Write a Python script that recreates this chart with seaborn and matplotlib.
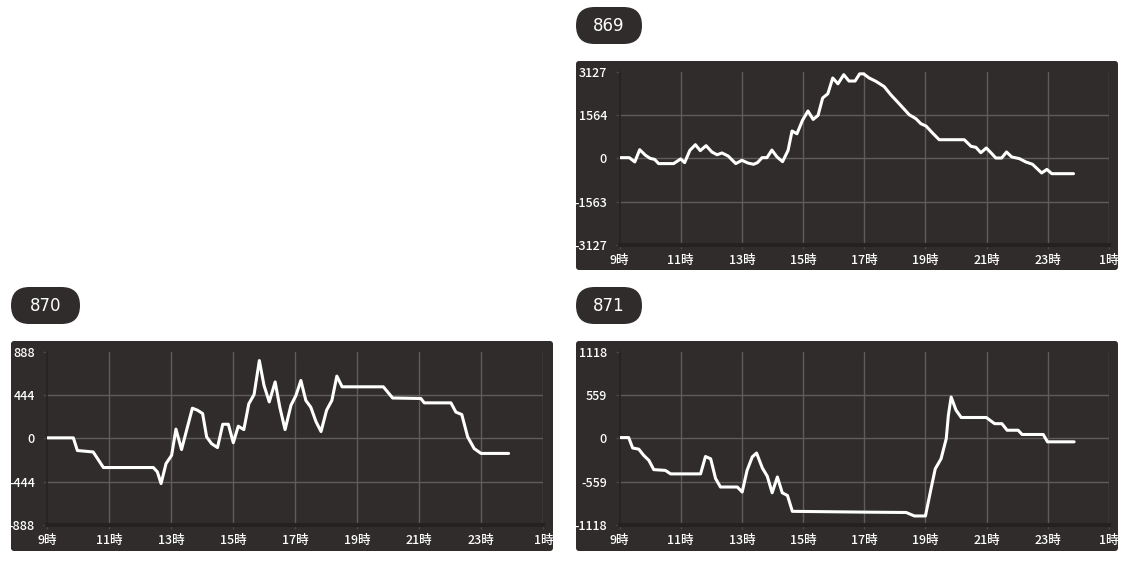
import matplotlib
matplotlib.use("Agg")
import matplotlib.pyplot as plt
from matplotlib.patches import FancyBboxPatch
from matplotlib.transforms import IdentityTransform
import pandas as pd
import seaborn as sns

# ---------------- data ----------------
titles = ["869", "870", "871"]
hour_ticks = [9, 11, 13, 15, 17, 19, 21, 23, 25]
hour_labels = ["9時", "11時", "13時", "15時", "17時", "19時", "21時", "23時", "1時"]

y869_ticks = [3127, 1563.5, 0, -1563.5, -3127]
y869_labels = ["3127", "1564", "0", "-1563", "-3127"]
y870_ticks = [888, 444, 0, -444, -888]
y870_labels = ["888", "444", "0", "-444", "-888"]
y871_ticks = [1118, 559, 0, -559, -1118]
y871_labels = ["1118", "559", "0", "-559", "-1118"]

t869 = [9.0, 9.32, 9.5, 9.66, 9.85, 10.0, 10.15, 10.28, 10.77, 11.0, 11.13, 11.3, 11.48,
        11.64, 11.83, 12.02, 12.19, 12.35, 12.55, 12.8, 13.0, 13.2, 13.38, 13.51, 13.66,
        13.82, 13.98, 14.15, 14.33, 14.51, 14.64, 14.8, 14.98, 15.16, 15.33, 15.49, 15.64,
        15.81, 15.97, 16.14, 16.33, 16.5, 16.7, 16.85, 16.98, 17.16, 17.38, 17.65, 17.87,
        18.14, 18.47, 18.69, 18.85, 19.02, 19.23, 19.45, 20.27, 20.49, 20.65, 20.81, 20.99,
        21.14, 21.3, 21.49, 21.65, 21.82, 22.07, 22.28, 22.5, 22.8, 22.97, 23.13, 23.84]
v869 = [25, 25, -130, 314, 110, 0, -40, -190, -190, -20, -155, 290, 495,
        280, 460, 230, 130, 195, 85, -190, -70, -170, -215, -155, 25,
        25, 300, 50, -120, 290, 990, 890, 1375, 1715, 1410, 1555, 2185,
        2340, 2910, 2700, 3030, 2800, 2800, 3060, 3060, 2910, 2790, 2600, 2300,
        1980, 1580, 1435, 1255, 1170, 920, 675, 675, 435, 400, 205, 375,
        205, 12, 12, 230, 50, -10, -130, -215, -530, -400, -555, -555]

t870 = [9.0, 9.84, 9.97, 10.48, 10.81, 12.42, 12.55, 12.67, 12.83, 13.01, 13.15, 13.33,
        13.68, 13.84, 14.01, 14.14, 14.3, 14.49, 14.66, 14.84, 15.0, 15.16, 15.34, 15.5,
        15.67, 15.84, 15.99, 16.16, 16.35, 16.5, 16.67, 16.86, 17.02, 17.18, 17.34, 17.5,
        17.67, 17.83, 18.01, 18.18, 18.34, 18.51, 19.84, 20.14, 21.05, 21.16, 22.02, 22.18,
        22.37, 22.56, 22.77, 22.99, 23.88]
v870 = [5, 5, -125, -140, -300, -300, -345, -465, -260, -175, 95, -115,
        310, 290, 255, 15, -55, -95, 145, 145, -45, 125, 90, 355,
        450, 800, 545, 375, 580, 320, 90, 340, 440, 595, 390, 320,
        170, 70, 290, 390, 640, 530, 530, 415, 410, 365, 365, 270,
        245, 15, -105, -155, -155]

t871 = [9.0, 9.3, 9.43, 9.63, 9.79, 9.96, 10.12, 10.5, 10.67, 11.65, 11.81, 11.98, 12.14,
        12.3, 12.85, 13.01, 13.17, 13.34, 13.48, 13.67, 13.83, 13.99, 14.16, 14.32, 14.49,
        14.65, 16.95, 18.37, 18.64, 19.0, 19.16, 19.32, 19.51, 19.68, 19.75, 19.84, 20.0,
        20.17, 20.99, 21.26, 21.5, 21.67, 22.03, 22.16, 22.85, 22.99, 23.86]
v871 = [10, 10, -125, -140, -220, -285, -405, -415, -460, -460, -235, -265, -520,
        -630, -630, -695, -415, -240, -190, -385, -490, -705, -500, -705, -740,
        -945, -955, -960, -1005, -1005, -695, -395, -265, -5, 300, 535, 365,
        270, 270, 190, 190, 105, 105, 50, 50, -45, -45]

# ---------------- style ----------------
W, H = 1125, 561
BG = "#2f2c2b"
GRID = "#5f5c5a"

sns.set_theme(style="dark")
plt.rcParams["font.family"] = ["Noto Sans CJK JP", "DejaVu Sans"]

fig = plt.figure(figsize=(W / 100, H / 100), dpi=100, facecolor="white")


def rbox(x0, y0, x1, y1, r, color):
    """rounded rectangle in output-pixel coords (top-left origin)"""
    p = FancyBboxPatch((x0, H - y1), x1 - x0, y1 - y0,
                       boxstyle=f"round,pad=0,rounding_size={r}",
                       transform=IdentityTransform(), facecolor=color,
                       edgecolor="none", zorder=-5)
    fig.patches.append(p)


panels = [
    (titles[0], t869, v869, y869_ticks, y869_labels,
     (576, 61, 1118, 270), (576, 7, 642, 44), (619.5, 72, 1109, 244.7)),
    (titles[1], t870, v870, y870_ticks, y870_labels,
     (11, 341, 553, 551), (11, 287, 80, 324), (47.3, 352, 543.3, 524.7)),
    (titles[2], t871, v871, y871_ticks, y871_labels,
     (576, 341, 1118, 551), (576, 287, 642, 324), (619.5, 352, 1109, 524.7)),
]

for title, t, v, yt, yl, box, pill, plot in panels:
    rbox(*box, 3, BG)
    rbox(*pill, (pill[3] - pill[1]) / 2, BG)
    fig.text((pill[0] + pill[2]) / 2 / W, 1 - ((pill[1] + pill[3]) / 2 + 0.5) / H, title,
             color="white", fontsize=12, ha="center", va="center",
             family=["DejaVu Sans"])

    l, tp, r, b = plot
    ax = fig.add_axes([l / W, 1 - b / H, (r - l) / W, (b - tp) / H])
    ax.set_facecolor("none")
    df = pd.DataFrame({"hour": t, "value": v})
    sns.lineplot(data=df, x="hour", y="value", ax=ax, color="white",
                 linewidth=2.2, estimator=None, sort=False, zorder=5,
                 solid_joinstyle="round", solid_capstyle="round")
    ax.set_xlim(9, 25)
    ax.set_ylim(yt[-1], yt[0])
    ax.set_xticks(hour_ticks, hour_labels)
    ax.set_yticks(yt, yl)
    ax.set_xlabel("")
    ax.set_ylabel("")
    ax.grid(True, color=GRID, linewidth=1)
    ax.get_ygridlines()[0].set_visible(False)
    ax.get_ygridlines()[-1].set_visible(False)
    ax.get_xgridlines()[0].set_visible(False)
    for s in ["top", "right"]:
        ax.spines[s].set_visible(False)
    ax.spines["left"].set_color("#262423")
    ax.spines["left"].set_linewidth(1.2)
    ax.spines["bottom"].set_color("#242221")
    ax.spines["bottom"].set_linewidth(3)
    ax.tick_params(axis="y", colors="#4a4746", labelcolor="white", length=3,
                   width=1, pad=6, labelsize=9)
    ax.tick_params(axis="x", colors="#4a4746", labelcolor="white", length=3,
                   width=1, pad=4, labelsize=9)
    ax.tick_params(which="both", left=True, bottom=True)
    for lab in ax.get_xticklabels() + ax.get_yticklabels():
        lab.set_fontweight("medium")

fig.savefig("out.png", dpi=100, facecolor="white")
